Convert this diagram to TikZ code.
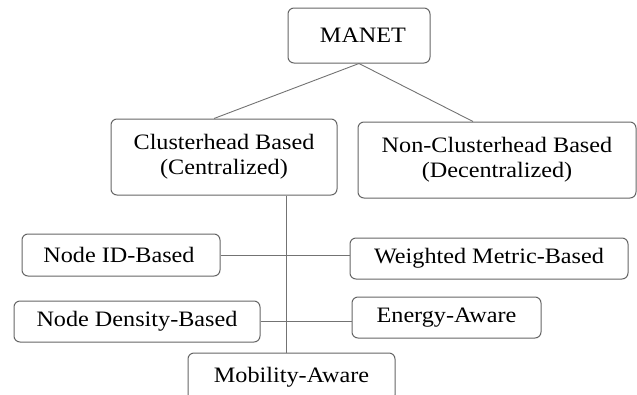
\documentclass[tikz,border=0pt]{standalone}
\usepackage{fontspec}
\setmainfont[FakeStretch=1.1]{Liberation Serif}
\begin{document}
\begin{tikzpicture}[x=1pt,y=-1pt,
  box/.style={draw=black!60,line width=1pt,rounded corners=6pt,fill=white,
    align=center,inner sep=0pt,font=\fontsize{22}{25}\selectfont},
  link/.style={draw=black!55,line width=0.9pt}]
  \useasboundingbox
    (0,0)
    rectangle
    (637,394);
  \node[box,minimum width=142pt,minimum height=55pt] (manet) at (359,35.5) {\hspace{8pt}MANET};
  \node[box,minimum width=226pt,minimum height=76pt] (ch) at (224,157) {Clusterhead Based\\(Centralized)};
  \node[box,minimum width=278pt,minimum height=76pt] (nch) at (497,160) {Non-Clusterhead Based\\(Decentralized)};
  \node[box,minimum width=198pt,minimum height=42pt] (nid) at (121,255) {Node ID-Based\hspace{4pt}};
  \node[box,minimum width=278pt,minimum height=41pt] (wm) at (489,258.5) {Weighted Metric-Based};
  \node[box,minimum width=246pt,minimum height=41pt] (nd) at (137,321.5) {Node Density-Based};
  \node[box,minimum width=189pt,minimum height=41pt] (ea) at (446.5,317.5) {Energy-Aware};
  \node[box,minimum width=207pt,minimum height=48pt] (mob) at (291.5,377) {Mobility-Aware};
  \coordinate (trunk) at ([xshift=62pt]ch.south);
  \draw[link]
    (manet.south)
    --
    ([xshift=-10pt]ch.north);
  \draw[link]
    (manet.south)
    --
    ([xshift=-24pt]nch.north);
  \draw[link]
    (trunk)
    --
    (trunk |- mob.north);
  \draw[link]
    (nid.east)
    --
    (nid.east -| wm.west);
  \draw[link]
    (nd.east)
    --
    (nd.east -| ea.west);
\end{tikzpicture}
\end{document}
